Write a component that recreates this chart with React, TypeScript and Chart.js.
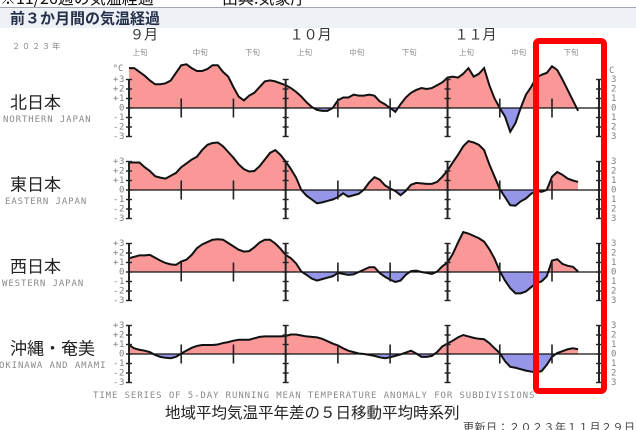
import { useEffect, useRef } from "react";
import { Chart, registerables } from "chart.js";

Chart.register(...registerables);

// ---- data (day index: 0 = Sep 1) ----
const days = [
  0, 1, 2, 3, 4, 5, 6, 7, 8, 9, 10, 11, 12, 13, 14, 15, 16, 17, 18, 19, 20, 21, 22, 23, 24, 25, 26, 27, 28, 29,
  30, 31, 32, 33, 34, 35, 36, 37, 38, 39, 40, 41, 42, 43, 44, 45, 46, 47, 48, 49, 50, 51, 52, 53, 54, 55, 56, 57, 58, 59, 60,
  61, 62, 63, 64, 65, 66, 67, 68, 69, 70, 71, 72, 73, 74, 75, 76, 77, 78, 79, 80, 81, 82, 83, 84, 85, 86,
];
const northValues = [
  4.2, 4.2, 3.8, 3.4, 2.9, 2.5, 2.5, 2.6, 2.9, 3.7, 4.5, 4.6, 4.2, 3.9, 3.9, 4.1, 4.5, 4.5, 3.8, 3.3, 2.2, 1.2, 0.8, 1.3, 1.6, 2.2, 2.8, 2.9, 2.8, 2.6,
  2.4, 2.1, 1.7, 1.2, 0.6, 0.1, -0.2, -0.3, -0.3, 0.0, 0.8, 1.1, 1.1, 1.4, 1.3, 1.3, 1.4, 1.3, 0.7, 0.4, 0.0, -0.4, 0.4, 1.1, 1.6, 1.9, 2.1, 2.0, 2.1, 2.4, 2.7,
  3.2, 3.3, 3.2, 3.6, 4.2, 3.3, 3.6, 4.2, 2.4, 1.0, 0.0, -0.9, -2.5, -1.6, 0.0, 1.4, 2.2, 3.2, 3.5, 3.7, 4.4, 4.0, 3.0, 1.9, 0.8, -0.3,
];
const eastValues = [
  2.9, 2.9, 2.9, 2.4, 2.0, 1.45, 1.3, 1.2, 1.5, 1.8, 2.4, 2.8, 3.2, 3.5, 4.2, 4.75, 4.95, 5.0, 4.6, 4.0, 3.4, 2.7, 2.2, 1.95, 2.0, 2.5, 3.2, 3.9, 4.2, 3.7,
  3.0, 2.2, 1.3, 0.0, -0.6, -1.0, -1.4, -1.3, -1.15, -1.0, -0.75, -0.35, -0.7, -0.55, -0.4, 0.05, 0.8, 1.35, 1.1, 0.5, 0.15, -0.1, -0.55, -0.1, 0.55, 0.75, 0.7, 0.65, 0.65, 0.85, 1.4,
  2.05, 2.9, 3.7, 4.6, 5.15, 5.0, 4.75, 4.2, 2.7, 1.4, 0.1, -0.75, -1.6, -1.65, -1.2, -0.9, -0.4, -0.1, -0.2, 0.0, 1.4, 1.9, 1.6, 1.2, 1.0, 0.85,
];
const westValues = [
  1.45, 1.6, 1.75, 1.75, 1.8, 1.5, 1.2, 0.95, 0.8, 0.75, 1.1, 1.3, 1.8, 2.5, 2.9, 3.15, 3.4, 3.45, 3.4, 3.05, 2.7, 2.35, 2.15, 2.2, 2.6, 3.1, 3.4, 3.4, 3.0, 2.45,
  1.8, 1.45, 0.9, 0.05, -0.3, -0.7, -0.9, -0.75, -0.6, -0.45, -0.1, -0.2, -0.3, -0.25, 0.0, 0.25, 0.5, 0.5, -0.1, -0.5, -0.8, -1.05, -0.9, -0.3, 0.1, 0.15, 0.0, -0.1, -0.2, 0.05, 0.6,
  1.0, 1.9, 3.1, 4.2, 4.05, 3.8, 3.55, 3.2, 2.4, 1.4, 0.1, -0.9, -1.7, -2.25, -2.25, -2.05, -1.6, -1.15, -1.0, -0.45, 1.2, 1.35, 0.85, 0.65, 0.55, 0.05,
];
const okinawaValues = [
  0.95, 0.6, 0.45, 0.35, 0.2, -0.1, -0.3, -0.4, -0.45, -0.3, 0.05, 0.35, 0.65, 0.85, 0.95, 0.95, 0.95, 1.0, 1.15, 1.25, 1.4, 1.5, 1.5, 1.5, 1.65, 1.8, 1.85, 1.85, 1.85, 1.85,
  1.9, 2.05, 2.05, 1.95, 1.85, 1.8, 1.75, 1.6, 1.35, 1.1, 0.9, 0.6, 0.35, 0.2, 0.05, 0.0, -0.1, -0.2, -0.35, -0.45, -0.35, -0.2, -0.05, 0.15, 0.35, 0.05, -0.3, -0.3, -0.2, 0.2, 0.8,
  1.1, 1.4, 1.75, 2.0, 1.85, 1.7, 1.6, 1.55, 1.15, 0.6, 0.1, -0.75, -1.35, -1.45, -1.6, -1.75, -1.85, -1.95, -1.8, -1.15, -0.3, 0.1, 0.3, 0.5, 0.6, 0.5,
];

const regionNames = ["北日本", "東日本", "西日本", "沖縄・奄美"];
const regionNamesEn = ["NORTHERN JAPAN", "EASTERN JAPAN", "WESTERN JAPAN", "OKINAWA AND AMAMI"];
const monthLabels = ["９月", "１０月", "１１月"];
const monthStartDays = [0, 30, 61];
const monthBarDays = [0, 30, 61, 90];
const dekadStartDays = [0, 10, 20, 30, 40, 50, 61, 71, 81];
const dekadLabels = ["上旬", "中旬", "下旬", "上旬", "中旬", "下旬", "上旬", "中旬", "下旬"];
const dekadTickDays = [10, 20, 40, 50, 71, 81];
const tickValues = [3, 2, 1, 0, -1, -2, -3];
const leftTickLabels = ["+3", "+2", "+1", "0", "-1", "-2", "-3"];
const rightTickLabels = ["3", "2", "1", "0", "1", "2", "3"];

const yearLabel = "２０２３年";
const topLine = "※11/26週の気温経過";
const sourceLabel = "出典:気象庁";
const headerTitle = "前３か月間の気温経過";
const footerEn = "TIME SERIES OF 5-DAY RUNNING MEAN TEMPERATURE ANOMALY FOR SUBDIVISIONS";
const footerJa = "地域平均気温平年差の５日移動平均時系列";
const updated = "更新日：２０２３年１１月２９日";

// ---- layout / style ----
const W = 636;
const H = 430;
const LEFT = 129;
const RIGHT = 599;
const TOP = 40;
const BOTTOM = 390;
const ZEROS = [108, 190, 272, 354];
const PX_PER_UNIT = 9.5;
const PINK = "rgb(250,152,152)";
const BLUE = "rgb(150,150,232)";
const MONO = "'DejaVu Sans Mono', monospace";
const JP = "'Noto Sans CJK JP', sans-serif";
const yIds = ["yN", "yE", "yW", "yO"];

function text(
  ctx: CanvasRenderingContext2D,
  s: string,
  x: number,
  y: number,
  font: string,
  color: string,
  align: CanvasTextAlign = "left",
  spacing = "0px",
  baseline: CanvasTextBaseline = "middle"
) {
  ctx.save();
  ctx.font = font;
  ctx.fillStyle = color;
  ctx.textAlign = align;
  ctx.textBaseline = baseline;
  (ctx as any).letterSpacing = spacing;
  ctx.fillText(s, x, y);
  ctx.restore();
}

const decorPlugin = {
  id: "decor",
  beforeDraw(chart: any) {
    const ctx: CanvasRenderingContext2D = chart.ctx;
    ctx.save();
    ctx.fillStyle = "#ffffff";
    ctx.fillRect(0, 0, W, H);
    // header band
    ctx.fillStyle = "#eef1f6";
    ctx.fillRect(0, 8, W, 20);
    ctx.strokeStyle = "#9ea6b8";
    ctx.lineWidth = 1;
    ctx.beginPath();
    ctx.moveTo(0, 7.5);
    ctx.lineTo(W, 7.5);
    ctx.stroke();
    ctx.restore();
  },
  afterDatasetsDraw(chart: any) {
    const ctx: CanvasRenderingContext2D = chart.ctx;
    const xs = chart.scales.x;
    ctx.save();
    yIds.forEach((id, r) => {
      const ys = chart.scales[id];
      const z = ys.getPixelForValue(0);
      ctx.strokeStyle = "#111";
      ctx.lineWidth = 1.2;
      ctx.beginPath();
      ctx.moveTo(xs.getPixelForValue(0), z);
      ctx.lineTo(xs.getPixelForValue(90) + 2, z);
      ctx.stroke();
      // month bars
      monthBarDays.forEach((d) => {
        const x = xs.getPixelForValue(d);
        ctx.strokeStyle = "#222";
        ctx.lineWidth = 2;
        ctx.beginPath();
        ctx.moveTo(x, ys.getPixelForValue(3));
        ctx.lineTo(x, ys.getPixelForValue(-3));
        ctx.stroke();
        ctx.lineWidth = 1.4;
        tickValues.forEach((v) => {
          const y = ys.getPixelForValue(v);
          ctx.beginPath();
          ctx.moveTo(x - 3, y);
          ctx.lineTo(x + 3, y);
          ctx.stroke();
        });
      });
      // dekad ticks
      dekadTickDays.forEach((d) => {
        const x = xs.getPixelForValue(d);
        ctx.strokeStyle = "#222";
        ctx.lineWidth = 1.6;
        ctx.beginPath();
        ctx.moveTo(x, ys.getPixelForValue(1));
        ctx.lineTo(x, ys.getPixelForValue(-1));
        ctx.stroke();
      });
      // tick labels
      tickValues.forEach((v, i) => {
        const y = ys.getPixelForValue(v);
        text(ctx, leftTickLabels[i], 125, y, `9px ${MONO}`, "#808080", "right", "0.6px");
        text(ctx, rightTickLabels[i], 611, y, `9px ${MONO}`, "#808080", "left");
      });
      if (r === 0) {
        const y = ys.getPixelForValue(3) - 11;
        text(ctx, "°C", 118, y, `9px ${MONO}`, "#808080", "center");
        text(ctx, "C", 609, y + 2, `9px ${MONO}`, "#808080", "left");
      }
      // region labels
      text(ctx, regionNames[r], 10, z - 6, `17px ${JP}`, "#222", "left");
      text(ctx, regionNamesEn[r], r === 3 ? -1 : r === 2 ? 2 : r === 1 ? 5 : 3, z + 11.5, `9px ${MONO}`, "#8a8a8a", "left", "0.9px");
    });
    ctx.restore();
  },
  afterDraw(chart: any) {
    const ctx: CanvasRenderingContext2D = chart.ctx;
    const xs = chart.scales.x;
    // top texts
    text(ctx, topLine, 0, 4, `16px ${JP}`, "#111", "left", "0px", "alphabetic");
    text(ctx, sourceLabel, 222, 4, `16px ${JP}`, "#111", "left", "0px", "alphabetic");
    text(ctx, headerTitle, 10, 18, `bold 15px ${JP}`, "#24304a", "left");
    // month labels
    monthStartDays.forEach((d, i) => {
      const x = xs.getPixelForValue(d) + (i === 0 ? 1 : i === 1 ? 4 : 7);
      text(ctx, monthLabels[i], x, 34, `14px ${JP}`, "#333", "left");
    });
    text(ctx, yearLabel, 12, 46, `8px ${JP}`, "#8a8a8a", "left", "2px");
    dekadStartDays.forEach((d, i) => {
      const x = xs.getPixelForValue(d) + (i === 0 ? 11 : 19);
      text(ctx, dekadLabels[i], x, 52, `7.5px ${JP}`, "#8a8a8a", "center");
    });
    // footer
    text(ctx, footerEn, 93, 395.5, `9px ${MONO}`, "#8a8a8a", "left", "0.9px");
    text(ctx, footerJa, 165, 412, `15.5px ${JP}`, "#222", "left");
    text(ctx, updated, 463, 427, `11px ${JP}`, "#444", "left", "0.5px");
    // red box
    ctx.save();
    ctx.strokeStyle = "#ff0000";
    ctx.lineWidth = 6;
    ctx.beginPath();
    (ctx as any).roundRect(536, 41, 68, 350, 3);
    ctx.stroke();
    ctx.restore();
  },
};

export default function App() {
  const ref = useRef<HTMLCanvasElement>(null);
  useEffect(() => {
    if (!ref.current) return;
    const series = [northValues, eastValues, westValues, okinawaValues];
    const scales: any = {
      x: { type: "linear", min: 0, max: 90, display: false },
    };
    yIds.forEach((id, r) => {
      scales[id] = {
        type: "linear",
        display: false,
        min: -(BOTTOM - ZEROS[r]) / PX_PER_UNIT,
        max: (ZEROS[r] - TOP) / PX_PER_UNIT,
      };
    });
    const chart = new Chart(ref.current, {
      type: "line",
      data: {
        datasets: series.map((vals, r) => ({
          label: regionNames[r],
          data: days.map((d, i) => ({ x: d, y: vals[i] })),
          yAxisID: yIds[r],
          borderColor: "#111",
          borderWidth: 2,
          pointRadius: 0,
          tension: 0,
          clip: false,
          fill: { target: { value: 0 }, above: PINK, below: BLUE },
        })),
      },
      options: {
        animation: false,
        responsive: false,
        devicePixelRatio: 2,
        layout: { padding: { left: LEFT, right: W - RIGHT, top: TOP, bottom: H - BOTTOM } },
        scales,
        plugins: { legend: { display: false }, tooltip: { enabled: false }, title: { display: false } },
        events: [],
      } as any,
      plugins: [decorPlugin],
    });
    return () => chart.destroy();
  }, []);
  return (
    <div style={{ position: "absolute", left: 0, top: 0, width: W, height: H, overflow: "hidden", background: "#fff" }}>
      <canvas ref={ref} width={W} height={H} style={{ width: W, height: H, display: "block" }} />
    </div>
  );
}
